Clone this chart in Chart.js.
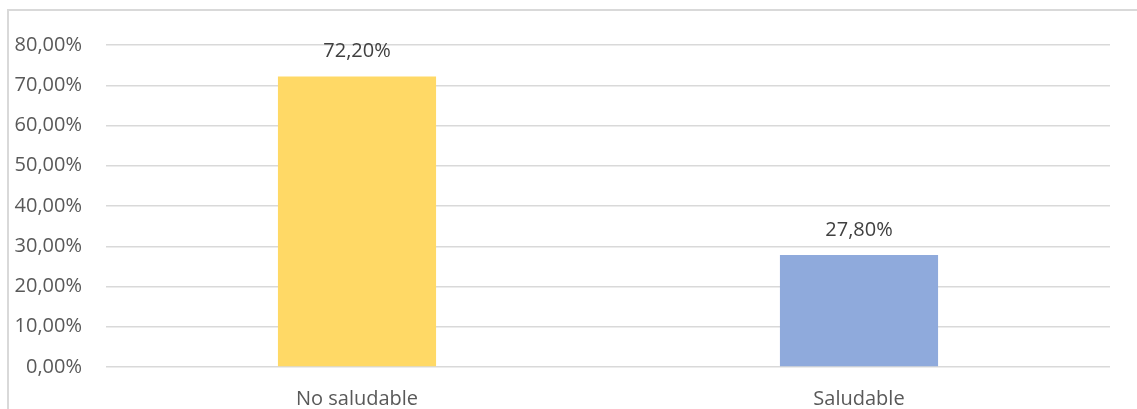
<!DOCTYPE html>
<html>
<head>
<meta charset="utf-8">
<script src="https://cdn.jsdelivr.net/npm/chart.js@4/dist/chart.umd.min.js"></script>
<style>
  html, body { margin: 0; padding: 0; background: #fff; }
  #wrap { width: 1137px; height: 409px; position: relative; }
</style>
</head>
<body>
<div id="wrap"><canvas id="grafico"></canvas></div>
<script>
// Datos
const categorias = ['No saludable', 'Saludable'];
const valores = [0.722, 0.278];
const colores = ['#FFD966', '#8FAADC'];

function formatoPorcentaje(v) {
  return (v * 100).toFixed(2).replace('.', ',') + '%';
}

// Marco gris exterior
const marco = {
  id: 'marco',
  beforeDraw(chart) {
    const ctx = chart.ctx;
    ctx.save();
    ctx.strokeStyle = '#d9d9d9';
    ctx.lineWidth = 2;
    ctx.strokeRect(8, 10, chart.width + 20, chart.height + 20);
    ctx.restore();
  }
};

// Etiquetas de datos encima de cada barra
const etiquetas = {
  id: 'etiquetas',
  afterDatasetsDraw(chart) {
    const ctx = chart.ctx;
    const meta = chart.getDatasetMeta(0);
    ctx.save();
    ctx.font = '20px "Open Sans"';
    ctx.fillStyle = '#404040';
    ctx.textAlign = 'center';
    ctx.textBaseline = 'middle';
    meta.data.forEach((barra, i) => {
      ctx.fillText(formatoPorcentaje(valores[i]), barra.x, barra.y - 25);
    });
    ctx.restore();
  }
};

const ctx = document.getElementById('grafico').getContext('2d');
new Chart(ctx, {
  type: 'bar',
  data: {
    labels: categorias,
    datasets: [{
      data: valores,
      backgroundColor: colores,
      borderWidth: 0,
      barPercentage: 0.63,
      categoryPercentage: 0.5
    }]
  },
  options: {
    responsive: true,
    maintainAspectRatio: false,
    animation: false,
    layout: { padding: { top: 45, right: 27, bottom: 0, left: 0 } },
    plugins: {
      legend: { display: false },
      tooltip: { enabled: false }
    },
    scales: {
      y: {
        min: 0,
        max: 0.8,
        ticks: {
          stepSize: 0.1,
          padding: 24,
          color: '#595959',
          font: { family: 'Open Sans', size: 20 },
          callback: v => formatoPorcentaje(v)
        },
        grid: { color: '#d9d9d9', lineWidth: 1.5, drawTicks: false },
        border: { display: false },
        afterFit: scale => { scale.width = 106; }
      },
      x: {
        ticks: {
          padding: 20,
          maxRotation: 0,
          color: '#595959',
          font: { family: 'Open Sans', size: 20 }
        },
        grid: { display: false, drawTicks: false },
        border: { display: false },
        afterFit: scale => { scale.height = 42; }
      }
    }
  },
  plugins: [marco, etiquetas]
});
</script>
</body>
</html>
